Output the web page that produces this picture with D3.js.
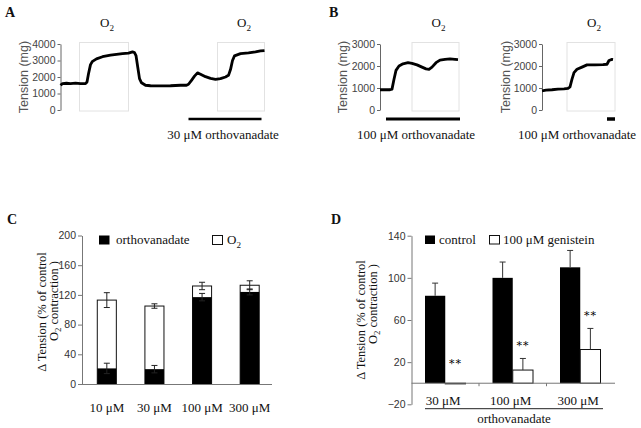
<!DOCTYPE html>
<html>
<head>
<meta charset="utf-8">
<script src="https://cdn.jsdelivr.net/npm/d3@7"></script>
<style>
  body { margin: 0; background: #fff; }
  svg { display: block; }
</style>
</head>
<body>
<script>
// ---- data: tension traces [time (arbitrary), tension mg] ----
const traceA = [[0,1500],[2,1600],[6,1620],[10,1600],[15,1630],[20,1600],[25,1600],[26.5,1700],[28,2200],[30,2750],[32,2950],[36,3100],[42,3230],[50,3320],[56,3370],[62,3420],[68,3450],[72,3520],[74,3480],[75.5,3300],[77,2700],[79,1900],[81,1650],[85,1500],[90,1470],[100,1460],[110,1470],[120,1500],[126,1500],[128,1560],[131,1800],[134,2050],[137,2250],[140,2170],[145,2020],[150,1920],[155,1860],[160,1900],[165,2000],[168,2100],[170,2450],[172,3000],[174,3280],[180,3420],[188,3460],[195,3520],[200,3580],[204,3600]];
const traceB1 = [[0,920],[5,930],[10,920],[12,950],[14,1400],[16,1800],[19,2000],[23,2100],[28,2150],[32,2120],[37,2050],[42,1950],[46,1870],[49,1850],[52,1950],[56,2150],[60,2270],[65,2300],[70,2320],[75,2300],[78,2290]];
const traceB2 = [[0,870],[4,900],[10,920],[16,950],[22,960],[26,980],[28,1050],[30,1400],[32,1700],[35,1850],[40,1950],[45,2050],[53,2050],[61,2060],[65,2080],[67,2250],[70,2300],[71,2290]];
const o2A = [[19,68],[157,204]];
const o2B1 = [[32,79]];
const o2B2 = [[25,73]];
const drugA = [128,201];
const drugB1 = [6,80];
const drugB2 = [65,73];
const ticksA = [0,1000,2000,3000,4000];
const ticksB = [0,1000,2000,3000];

// ---- data: panel C (stacked) ----
const concC = ["10 μM","30 μM","100 μM","300 μM"];
const vanC = [21,20,117,124];
const vanErrC = [7,5,5,4];
const totalC = [113,105,132,133];
const totalErrC = [10,3,5,6];
const ticksC = [0,40,80,120,160,200];

// ---- data: panel D (grouped) ----
const concD = ["30 μM","100 μM","300 μM"];
const controlD = [83,100,110];
const controlErrD = [12,15,16];
const genD = [-0.6,12.5,32];
const genErrD = [0,11,20];
const sigD = ["**","**","**"];
const ticksD = [-20,20,60,100,140];

const SERIF = "'Liberation Serif','Times New Roman',serif";
const SANS = "'Liberation Sans',Arial,sans-serif";

const svg = d3.select("body").append("svg").attr("width",641).attr("height",428);

// text with subscripts: parts = [[str, isSub], ...]
function rich(g, parts, x, y, size, anchor, rotate) {
  const t = g.append("text")
    .attr("font-family", SERIF).attr("font-size", size)
    .attr("text-anchor", anchor || "middle").attr("fill", "#111");
  if (rotate) t.attr("transform", `translate(${x},${y}) rotate(-90)`);
  else t.attr("x", x).attr("y", y);
  let down = false;
  parts.forEach(([s, sub]) => {
    const ts = t.append("tspan").text(s);
    if (sub) { ts.attr("font-size", size*0.7).attr("dy", down ? 0 : size*0.3); down = true; }
    else if (down) { ts.attr("dy", -size*0.3); down = false; }
  });
  return t;
}

function panelLetter(s, x, y) {
  svg.append("text").attr("x",x).attr("y",y).text(s)
    .attr("font-family",SERIF).attr("font-weight","bold").attr("font-size",14).attr("fill","#111");
}

// ---- trace panels ----
function tracePanel(o) {
  const g = svg.append("g");
  const x = d3.scaleLinear().domain(o.tDomain).range(o.xRange);
  const y = d3.scaleLinear().domain(o.yDomain).range([110, 44]);

  o.o2.forEach(p => {
    g.append("rect").attr("x", x(p[0])).attr("y", 42.5)
      .attr("width", x(p[1]) - x(p[0])).attr("height", 68.5)
      .attr("fill","none").attr("stroke","#e2e2e2").attr("stroke-width",1);
    rich(g, [["O",false],["2",true]], (x(p[0]) + x(p[1]))/2 + 3, 27, 13);
  });

  const ax = g.append("g").attr("transform", `translate(${o.xRange[0]},0)`)
    .call(d3.axisLeft(y).tickValues(o.ticks).tickSize(3).tickSizeOuter(0).tickPadding(2).tickFormat(d3.format("d")));
  ax.select(".domain").attr("stroke","#666");
  ax.selectAll(".tick line").attr("stroke","#666");
  ax.selectAll(".tick text").attr("font-family",SANS).attr("font-size",10.5).attr("fill","#444");

  g.append("text").attr("transform", `translate(${o.labelX},77) rotate(-90)`)
    .attr("text-anchor","middle").attr("font-family",SANS).attr("font-size",12.5)
    .attr("fill","#555").text("Tension (mg)");

  g.append("path").datum(o.data)
    .attr("d", d3.line().x(d => x(d[0])).y(d => y(d[1])))
    .attr("fill","none").attr("stroke","#000").attr("stroke-width",2.8)
    .attr("stroke-linejoin","round");

  g.append("line").attr("x1", x(o.drug[0])).attr("x2", x(o.drug[1]))
    .attr("y1",119).attr("y2",119).attr("stroke","#000").attr("stroke-width", o.drugW);
  rich(g, [[o.conc + " μM orthovanadate",false]], o.textX, 139, 13);
}

tracePanel({data: traceA, tDomain:[0,204], xRange:[60.5,264.5], yDomain:[0,4000], ticks: ticksA,
  o2: o2A, drug: drugA, drugW: 2.5, conc: "30", textX: 223, labelX: 28});
tracePanel({data: traceB1, tDomain:[0,80], xRange:[380,460], yDomain:[0,3000], ticks: ticksB,
  o2: o2B1, drug: drugB1, drugW: 3, conc: "100", textX: 416, labelX: 346.5});
tracePanel({data: traceB2, tDomain:[0,73], xRange:[542,615], yDomain:[0,3000], ticks: ticksB,
  o2: o2B2, drug: drugB2, drugW: 3.5, conc: "100", textX: 577, labelX: 509.5});

panelLetter("A", 5, 17);
panelLetter("B", 329, 17);
panelLetter("C", 7, 224);
panelLetter("D", 331, 224);

// ---- panel C ----
{
  const g = svg.append("g");
  const x = d3.scaleBand().domain(concC).range([83,273.5]);
  const y = d3.scaleLinear().domain([0,200]).range([384,235.5]);
  const bw = x.bandwidth()*0.4;
  const cx = c => x(c) + x.bandwidth()/2;

  // total (white) bars
  g.selectAll(".tot").data(concC).enter().append("rect")
    .attr("x", c => cx(c) - bw/2).attr("y", (c,i) => y(totalC[i]))
    .attr("width", bw).attr("height", (c,i) => y(0) - y(totalC[i]))
    .attr("fill","#fff").attr("stroke","#111").attr("stroke-width",1);
  g.selectAll(".van").data(concC).enter().append("rect")
    .attr("x", c => cx(c) - bw/2).attr("y", (c,i) => y(vanC[i]))
    .attr("width", bw).attr("height", (c,i) => y(0) - y(vanC[i]))
    .attr("fill","#000");

  function errs(vals, errv) {
    concC.forEach((c,i) => {
      const xx = cx(c), t = y(vals[i] + errv[i]), b = y(vals[i] - errv[i]);
      g.append("line").attr("x1",xx).attr("x2",xx).attr("y1",t).attr("y2",b).attr("stroke","#222");
      [t,b].forEach(yy => g.append("line").attr("x1",xx-3).attr("x2",xx+3).attr("y1",yy).attr("y2",yy).attr("stroke","#222"));
    });
  }
  errs(totalC, totalErrC);
  errs(vanC, vanErrC);

  const ay = g.append("g").attr("transform","translate(82,0)")
    .call(d3.axisLeft(y).tickValues(ticksC).tickSize(4).tickSizeOuter(0).tickPadding(2));
  ay.select(".domain").attr("stroke","#777");
  ay.selectAll(".tick line").attr("stroke","#777");
  ay.selectAll(".tick text").attr("font-family",SANS).attr("font-size",10.5).attr("fill","#333");
  g.append("line").attr("x1",82).attr("x2",272).attr("y1",384.5).attr("y2",384.5).attr("stroke","#777");

  concC.forEach(c => rich(g, [[c,false]], cx(c), 412, 13));

  rich(g, [["Δ Tension (% of control",false]], 46, 312, 12.5, "middle", true);
  rich(g, [["O",false],["2",true],[" contraction )",false]], 57.5, 301, 12.5, "middle", true);

  // legend
  g.append("rect").attr("x",99).attr("y",235.5).attr("width",10.5).attr("height",9).attr("fill","#000");
  rich(g, [["orthovanadate",false]], 116, 244, 13, "start");
  g.append("rect").attr("x",212.5).attr("y",235.5).attr("width",10).attr("height",9)
    .attr("fill","#fff").attr("stroke","#111");
  rich(g, [["O",false],["2",true]], 227, 244, 13, "start");
}

// ---- panel D ----
{
  const g = svg.append("g");
  const x = d3.scaleBand().domain(concD).range([411.5,614]);
  const y = d3.scaleLinear().domain([-20,140]).range([404.3,235.7]);
  const bw = x.bandwidth()*0.3;
  const cx = c => x(c) + x.bandwidth()/2;

  g.selectAll(".ctl").data(concD).enter().append("rect")
    .attr("x", c => cx(c) - bw).attr("y", (c,i) => y(controlD[i]))
    .attr("width", bw).attr("height", (c,i) => y(0) - y(controlD[i]))
    .attr("fill","#000");
  g.selectAll(".gen").data(concD).enter().append("rect")
    .attr("x", c => cx(c)).attr("y", (c,i) => y(Math.max(genD[i],0)))
    .attr("width", bw).attr("height", (c,i) => Math.abs(y(0) - y(genD[i])))
    .attr("fill","#fff").attr("stroke","#111").attr("stroke-width",1);

  function errs(vals, errv, off) {
    concD.forEach((c,i) => {
      if (!errv[i]) return;
      const xx = cx(c) + off, t = y(vals[i] + errv[i]), b = y(vals[i]);
      g.append("line").attr("x1",xx).attr("x2",xx).attr("y1",t).attr("y2",b).attr("stroke","#333");
      g.append("line").attr("x1",xx-3).attr("x2",xx+3).attr("y1",t).attr("y2",t).attr("stroke","#333");
    });
  }
  errs(controlD, controlErrD, -bw/2);
  errs(genD, genErrD, bw/2);

  concD.forEach((c,i) => {
    const top = y(Math.max(genD[i],0) + genErrD[i]);
    g.append("text").attr("x", cx(c) + bw/2).attr("y", Math.min(top - 14, y(20)) + 5)
      .attr("text-anchor","middle").attr("font-family","'DejaVu Serif',serif").attr("font-size",11)
      .attr("fill","#000").attr("letter-spacing",1).text(sigD[i]);
  });

  const ay = g.append("g").attr("transform","translate(411.5,0)")
    .call(d3.axisLeft(y).tickValues(ticksD).tickSize(4).tickSizeOuter(0).tickPadding(2));
  ay.select(".domain").attr("stroke","#777");
  ay.selectAll(".tick line").attr("stroke","#777");
  ay.selectAll(".tick text").attr("font-family",SANS).attr("font-size",10.5).attr("fill","#333");
  g.append("line").attr("x1",411.5).attr("x2",615).attr("y1",y(0)).attr("y2",y(0)).attr("stroke","#777");
  concD.slice(1).forEach(c => g.append("line").attr("x1",x(c)).attr("x2",x(c))
    .attr("y1",y(0)).attr("y2",y(0)+3).attr("stroke","#777"));

  concD.forEach(c => rich(g, [[c,false]], cx(c) - 2, 405, 13));
  g.append("line").attr("x1",425).attr("x2",603).attr("y1",408.7).attr("y2",408.7).attr("stroke","#222");
  rich(g, [["orthovanadate",false]], 514, 423, 13);

  rich(g, [["Δ Tension (% of control",false]], 365, 320, 12.5, "middle", true);
  rich(g, [["O",false],["2",true],[" contraction )",false]], 376.5, 304, 12.5, "middle", true);

  g.append("rect").attr("x",425).attr("y",235.5).attr("width",10).attr("height",8.5).attr("fill","#000");
  rich(g, [["control",false]], 439, 244, 13, "start");
  g.append("rect").attr("x",489.5).attr("y",235.5).attr("width",10).attr("height",8.5)
    .attr("fill","#fff").attr("stroke","#111");
  rich(g, [["100 μM genistein",false]], 503, 244, 13, "start");
}
</script>
</body>
</html>
